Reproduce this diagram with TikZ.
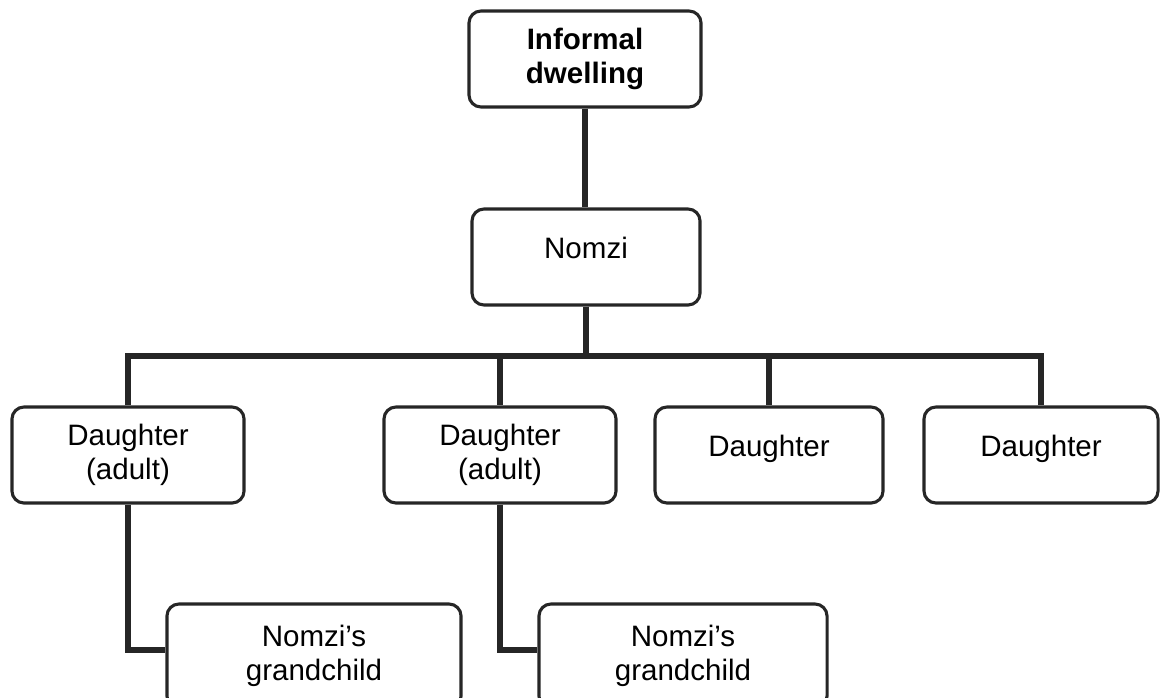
\documentclass[tikz,border=0pt]{standalone}
\usepackage{fontspec}
\setmainfont{Liberation Sans}
\usetikzlibrary{positioning, calc}

\begin{document}
\begin{tikzpicture}[x=0.025cm, y=-0.025cm,
                box/.style={draw=black!85, line width=2.2pt, rounded corners=0.3cm, align=center, minimum height=2.4cm, font=\fontsize{21}{24}\selectfont},
                single/.style={text height=14.5pt, text depth=13pt},
                link/.style={draw=black!85, line width=3.6pt}]
                \useasboundingbox (0,0) rectangle (1161,697);
                \node[box, minimum width=5.8cm, font=\fontsize{21}{24}\selectfont\bfseries] (dwelling) at (585,59) {Informal\\dwelling};
                \node[box, single, minimum width=5.7cm] (nomzi) at (586,257) {Nomzi};
                \node[box, minimum width=5.8cm] (d1) at (128,455) {Daughter\\(adult)};
                \node[box, minimum width=5.8cm] (d2) at (500,455) {Daughter\\(adult)};
                \node[box, single, minimum width=5.7cm] (d3) at (769,455) {Daughter};
                \node[box, single, minimum width=5.85cm] (d4) at (1041,455) {Daughter};
                \node[box, minimum width=7.35cm, minimum height=2.6cm] (g1) at (314,656) {Nomzi's\\grandchild};
                \node[box, minimum width=7.2cm, minimum height=2.6cm] (g2) at (683,656) {Nomzi's\\grandchild};
                \coordinate (bus) at (0,356);
                \draw[link] (dwelling.south) -- (dwelling.south |- nomzi.north);
                \draw[link] (nomzi.south) -- (nomzi.south |- bus);
                \draw[link] (d1.north) -- (d1.north |- bus) -- (d4.north |- bus) -- (d4.north);
                \foreach \d in {d2,d3} \draw[link] (\d.north |- bus) -- (\d.north);
                \draw[link] (d1.south) |- ($(g1.west)+(0,-6)$);
                \draw[link] (d2.south) |- ($(g2.west)+(0,-6)$);
            \end{tikzpicture}
\end{document}
